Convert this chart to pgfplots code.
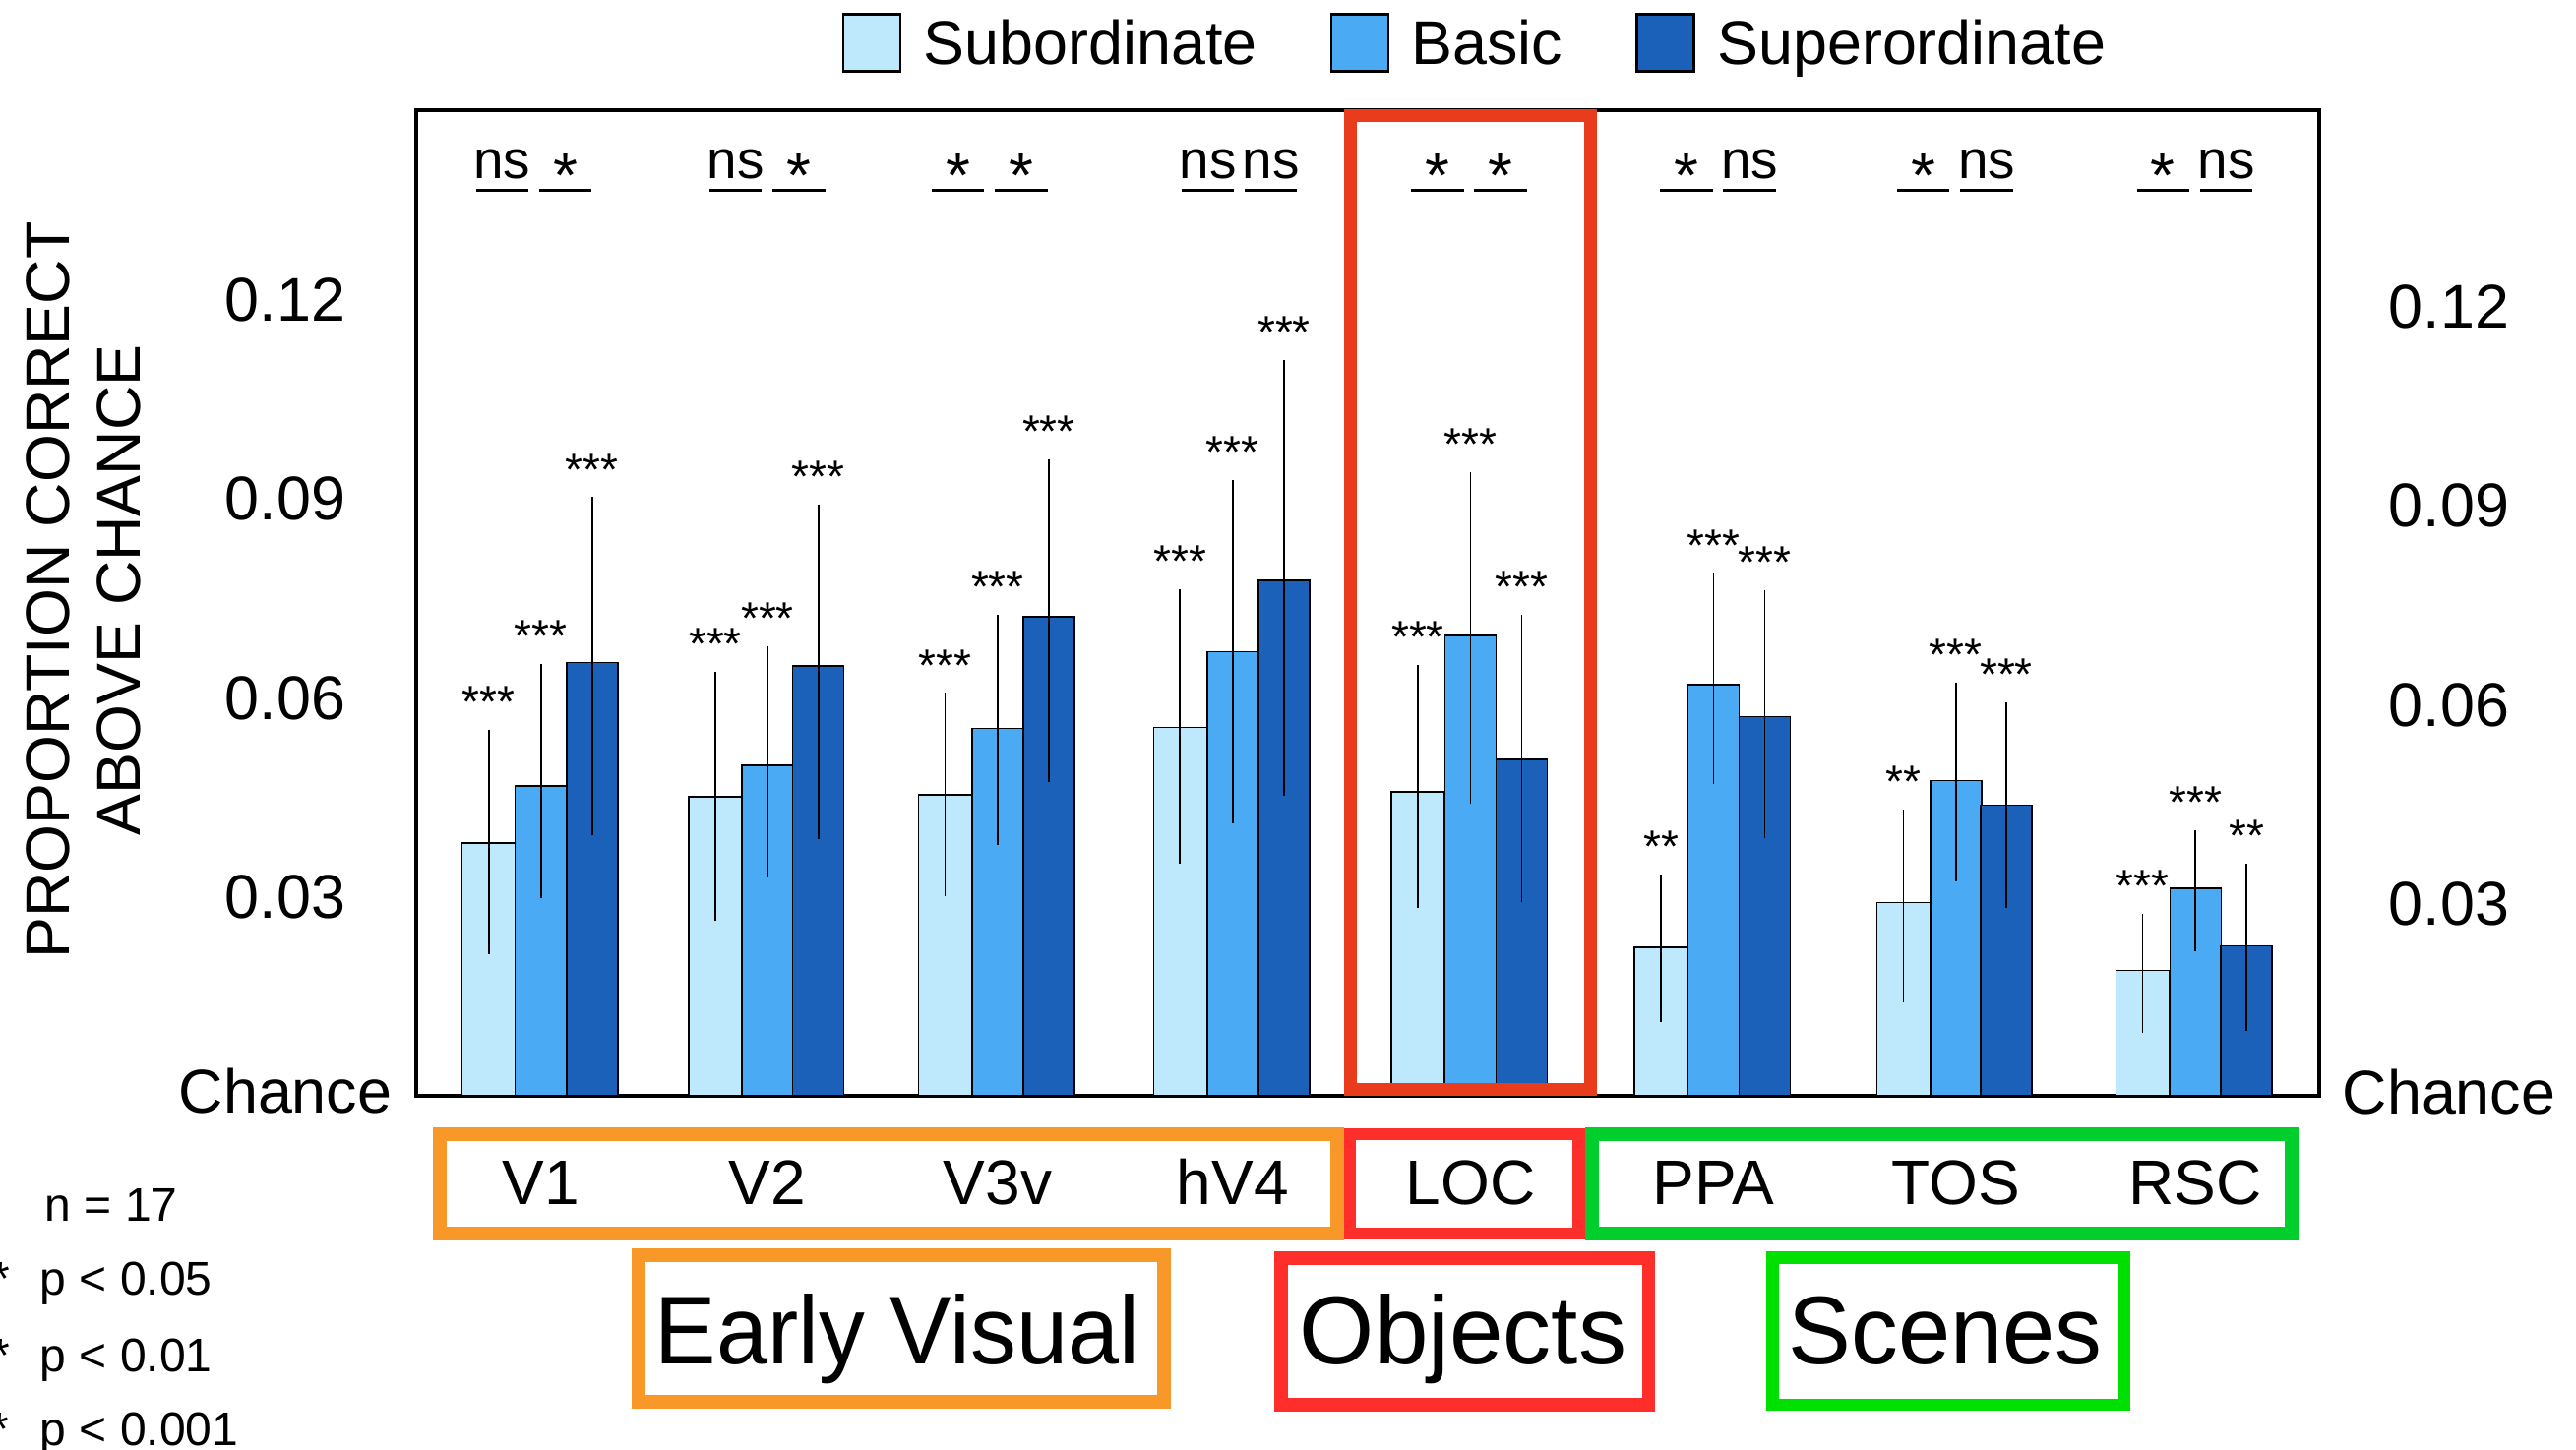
\documentclass[border=0pt]{standalone}
\usepackage{fontspec}
\setmainfont{Liberation Sans}
\usepackage{graphicx}
\usepackage{pgfplots}
\pgfplotsset{compat=1.18}
\usepackage{pgfplotstable}

\definecolor{csub}{RGB}{190,232,252}
\definecolor{cbas}{RGB}{74,170,243}
\definecolor{csup}{RGB}{27,97,185}
\definecolor{corange}{RGB}{248,152,40}
\definecolor{cred}{RGB}{254,46,42}
\definecolor{cloc}{RGB}{232,60,28}
\definecolor{cgreen}{RGB}{0,206,44}
\definecolor{cgreenb}{RGB}{0,224,0}

% x = horizontal position of each bar, y = proportion correct above chance,
% ep / em = upper / lower error
\pgfplotstableread{
x      y      ep     em
496.7  0.0381 0.0164 0.0160
727.0  0.0451 0.0181 0.0180
960.5  0.0454 0.0146 0.0145
1199.3 0.0555 0.0202 0.0197
1441.0 0.0458 0.0184 0.0168
1688.0 0.0224 0.0103 0.0106
1934.4 0.0291 0.0133 0.0143
2177.5 0.0189 0.0078 0.0087
}\subdata
\pgfplotstableread{
x      y      ep     em
549.6  0.0467 0.0177 0.0162
780.0  0.0498 0.0173 0.0161
1013.9 0.0554 0.0164 0.0168
1252.8 0.0670 0.0251 0.0252
1494.4 0.0694 0.0239 0.0246
1741.4 0.0620 0.0161 0.0143
1987.8 0.0475 0.0141 0.0144
2231.2 0.0313 0.0080 0.0088
}\basdata
\pgfplotstableread{
x      y      ep     em
601.8  0.0653 0.0242 0.0253
831.7  0.0648 0.0236 0.0253
1065.9 0.0722 0.0230 0.0241
1305.0 0.0777 0.0325 0.0318
1546.4 0.0507 0.0211 0.0208
1793.4 0.0572 0.0183 0.0176
2039.0 0.0438 0.0148 0.0148
2283.1 0.0226 0.0117 0.0120
}\supdata

\newcommand{\fT}{\fontsize{15.7}{18.84}\selectfont}
\newcommand{\fS}{\fontsize{11.5}{13.8}\selectfont}
\newcommand{\fK}{\fontsize{12}{14}\selectfont}

\begin{document}
\begin{tikzpicture}
\path[use as bounding box] (-105.75pt,278.5pt) rectangle (548.75pt,-90pt);
\begin{axis}[
  at={(0pt,0pt)}, anchor=south west,
  scale only axis, width=483.5pt, height=250.5pt,
  xmin=423, xmax=2357, ymin=0, ymax=0.1486,
  clip=false,
  axis line style={line width=0.8pt, black},
  major tick length=0pt,
  /pgf/number format/assume math mode=true,
  xtick={549.6,780,1013.9,1252.8,1494.4,1741.4,1987.8,2231.2},
  xticklabels={V1,V2,V3v,hV4,LOC,PPA,TOS,RSC},
  xticklabel style={anchor=base, yshift=-27.5pt, font=\fontsize{16}{19}\selectfont},
  ytick={0,0.03,0.06,0.09,0.12},
  yticklabels={\raisebox{2.5pt}{Chance},0.03,0.06,0.09,0.12},
  yticklabel style={anchor=center, xshift=-33.25pt, font=\fT},
  legend columns=3,
  legend style={at={(0.2237,1.0985)}, anchor=north west, draw=none, fill=none,
    inner sep=0pt, outer sep=0pt, font=\fontsize{15.7}{18}\selectfont,
    nodes={inner sep=0pt, text height=11pt, text depth=0pt},
    /tikz/every even column/.append style={column sep=18.5pt},
    /tikz/every odd column/.append style={column sep=5.6pt}},
  legend image code/.code={\draw[#1, draw=black, line width=0.7pt] (0pt,-7.25pt) rectangle (14.5pt,7.25pt);},
]
\addplot[ybar, bar width=54, bar shift=0pt, fill=csub, draw=black, line width=0.35pt,
  error bars/.cd, y dir=both, y explicit,
  error bar style={line width=0.45pt, black},
  error mark options={line width=0.45pt, mark size=1.25pt, black}]
  table[x=x, y=y, y error plus=ep, y error minus=em]{\subdata};
\addlegendentry{Subordinate}
\addplot[ybar, bar width=52, bar shift=0pt, fill=cbas, draw=black, line width=0.35pt,
  error bars/.cd, y dir=both, y explicit,
  error bar style={line width=0.45pt, black},
  error mark options={line width=0.45pt, mark size=1.25pt, black}]
  table[x=x, y=y, y error plus=ep, y error minus=em]{\basdata};
\addlegendentry{Basic}
\addplot[ybar, bar width=52, bar shift=0pt, fill=csup, draw=black, line width=0.35pt,
  error bars/.cd, y dir=both, y explicit,
  error bar style={line width=0.45pt, black},
  error mark options={line width=0.45pt, mark size=1.25pt, black}]
  table[x=x, y=y, y error plus=ep, y error minus=em]{\supdata};
\addlegendentry{Superordinate}

% significance above each bar (placed at top of error bar)
\node[anchor=base, font=\fS, yshift=4.3pt] at (axis cs:496.7,0.0545) {***};
\node[anchor=base, font=\fS, yshift=4.3pt] at (axis cs:549.6,0.0644) {***};
\node[anchor=base, font=\fS, yshift=4.3pt] at (axis cs:601.8,0.0895) {***};
\node[anchor=base, font=\fS, yshift=4.3pt] at (axis cs:727.0,0.0632) {***};
\node[anchor=base, font=\fS, yshift=4.3pt] at (axis cs:780.0,0.0671) {***};
\node[anchor=base, font=\fS, yshift=4.3pt] at (axis cs:831.7,0.0884) {***};
\node[anchor=base, font=\fS, yshift=4.3pt] at (axis cs:960.5,0.0600) {***};
\node[anchor=base, font=\fS, yshift=4.3pt] at (axis cs:1013.9,0.0718) {***};
\node[anchor=base, font=\fS, yshift=4.3pt] at (axis cs:1065.9,0.0952) {***};
\node[anchor=base, font=\fS, yshift=4.3pt] at (axis cs:1199.3,0.0757) {***};
\node[anchor=base, font=\fS, yshift=4.3pt] at (axis cs:1252.8,0.0921) {***};
\node[anchor=base, font=\fS, yshift=4.3pt] at (axis cs:1305.0,0.1102) {***};
\node[anchor=base, font=\fS, yshift=4.3pt] at (axis cs:1441.0,0.0642) {***};
\node[anchor=base, font=\fS, yshift=4.3pt] at (axis cs:1494.4,0.0933) {***};
\node[anchor=base, font=\fS, yshift=4.3pt] at (axis cs:1546.4,0.0718) {***};
\node[anchor=base, font=\fS, yshift=4.3pt] at (axis cs:1688.0,0.0327) {**};
\node[anchor=base, font=\fS, yshift=4.3pt] at (axis cs:1741.4,0.0781) {***};
\node[anchor=base, font=\fS, yshift=4.3pt] at (axis cs:1793.4,0.0755) {***};
\node[anchor=base, font=\fS, yshift=4.3pt] at (axis cs:1934.4,0.0424) {**};
\node[anchor=base, font=\fS, yshift=4.3pt] at (axis cs:1987.8,0.0616) {***};
\node[anchor=base, font=\fS, yshift=4.3pt] at (axis cs:2039.0,0.0586) {***};
\node[anchor=base, font=\fS, yshift=4.3pt] at (axis cs:2177.5,0.0267) {***};
\node[anchor=base, font=\fS, yshift=4.3pt] at (axis cs:2231.2,0.0393) {***};
\node[anchor=base, font=\fS, yshift=4.3pt] at (axis cs:2283.1,0.0343) {**};

% right-hand tick labels
\node[font=\fT, yshift=-1.75pt] at (axis cs:2489,0.12) {0.12};
\node[font=\fT, yshift=-1.75pt] at (axis cs:2489,0.09) {0.09};
\node[font=\fT, yshift=-1.75pt] at (axis cs:2489,0.06) {0.06};
\node[font=\fT, yshift=-1.75pt] at (axis cs:2489,0.03) {0.03};
\node[font=\fT, yshift=1pt] at (axis cs:2489,0) {Chance};
\end{axis}

\begin{scope}[x=0.25pt, y=-0.25pt, shift={(-105.75pt,278.5pt)}]
  % LOC highlight box
  \draw[cloc, line width=3.15pt] (1372.3,117.3) rectangle (1616.5,1107.7);
  % y label
  \node[rotate=90, align=center, font=\fontsize{15.7}{18.15}\selectfont] at (84.7,600)
    {PROPORTION CORRECT\\ABOVE CHANCE};
  % pairwise comparisons
  \foreach \xc/\t in {510.3/ns, 747.6/ns, 1227.5/ns, 1291.5/ns, 1778/ns, 2019/ns, 2262.5/ns}{
    \draw[line width=0.55pt] (\xc-26.75,193.5) -- (\xc+26.75,193.5);
    \node[anchor=base, inner sep=0pt, font=\fontsize{13.7}{16}\selectfont] at (\xc,182) {\t};
  }
  \foreach \xc in {574.5, 811.9, 973.7, 1037.8, 1461, 1525, 1714, 1954.7, 2198.3}{
    \draw[line width=0.55pt] (\xc-26.75,193.5) -- (\xc+26.75,193.5);
    \node[anchor=base, inner sep=0pt, font=\fontsize{16}{19}\selectfont] at (\xc,182) {\raisebox{-4.75pt}{*}};
  }
  % region boxes
  \draw[corange, line width=3.5pt] (446.5,1153) rectangle (1358.6,1254);
  \draw[cred, line width=3.1pt] (1371.8,1153) rectangle (1604.3,1254);
  \draw[cgreen, line width=3.5pt] (1617.5,1153) rectangle (2329,1254);
  \draw[corange, line width=3.5pt] (649.2,1275.9) rectangle (1182.5,1425.2);
  \draw[cred, line width=3.4pt] (1302.2,1278.7) rectangle (1675.4,1428);
  \draw[cgreenb, line width=3.2pt] (1801.8,1278.7) rectangle (2158.9,1428);
  \node[anchor=base, inner sep=0pt, font=\fontsize{24.5}{29}\selectfont] at (912,1386.7) {\scalebox{0.955}[1]{Early Visual}};
  \node[anchor=base, inner sep=0pt, font=\fontsize{24.5}{29}\selectfont] at (1487,1386.7) {Objects};
  \node[anchor=base, inner sep=0pt, font=\fontsize{24.5}{29}\selectfont] at (1977,1386.7) {\scalebox{0.975}[1]{Scenes}};
  % key
  \node[anchor=base west, inner sep=0pt, font=\fK] at (45,1241) {n = 17};
  \node[anchor=base west, inner sep=0pt, font=\fK] at (40,1316) {p < 0.05};
  \node[anchor=base west, inner sep=0pt, font=\fK] at (40,1394) {p < 0.01};
  \node[anchor=base west, inner sep=0pt, font=\fK] at (40,1469) {p < 0.001};
  \node[anchor=base east, inner sep=0pt, font=\fK] at (10.5,1316) {*};
  \node[anchor=base east, inner sep=0pt, font=\fK] at (10.5,1394) {**};
  \node[anchor=base east, inner sep=0pt, font=\fK] at (10.5,1469) {***};
\end{scope}
\end{tikzpicture}
\end{document}
